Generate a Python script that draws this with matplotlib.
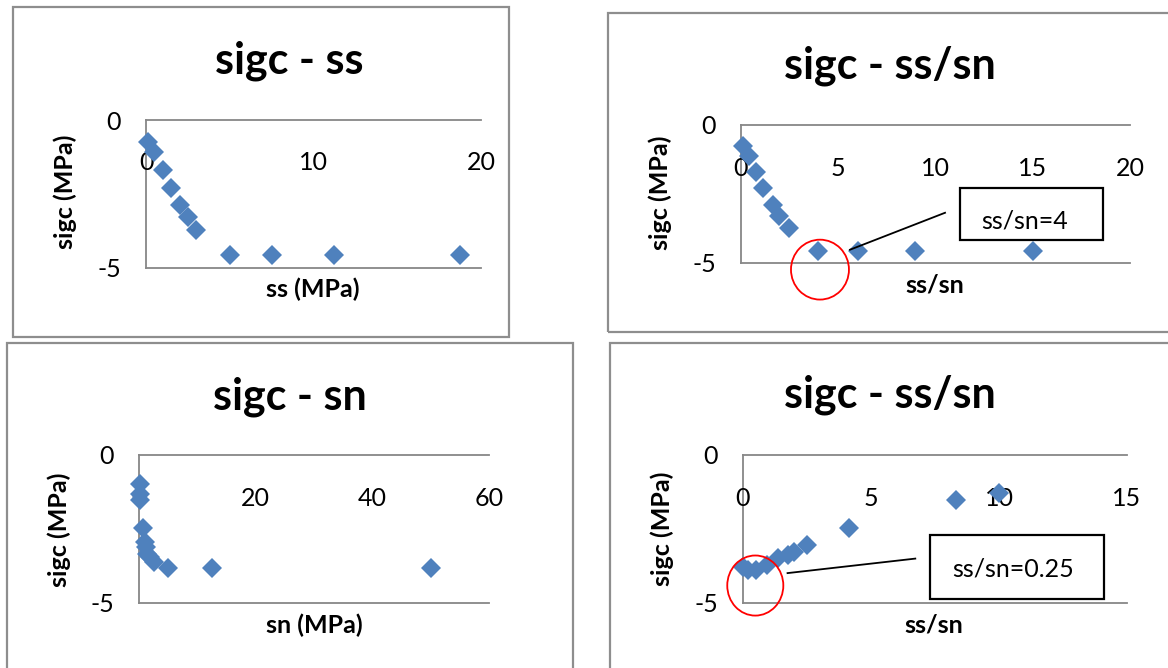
import matplotlib
matplotlib.use("Agg")
import matplotlib.pyplot as plt
from matplotlib.patches import Rectangle, Ellipse

plt.rcParams["font.family"] = ["Lato", "DejaVu Sans"]

W, H = 1168, 668
DPI = 100

# ---- data -------------------------------------------------------------
ss = [0.125, 0.5, 1.0, 1.5, 2.0, 2.5, 3.0, 5.0, 7.5, 11.25, 18.75]
sigc_ss = [-0.73, -1.07, -1.69, -2.29, -2.87, -3.29, -3.72, -4.55, -4.55, -4.56, -4.56]

ratio_a = [0.09, 0.43, 0.77, 1.15, 1.63, 1.97, 2.47, 3.98, 5.99, 8.95, 15.0]
sigc_a = [-0.75, -1.12, -1.69, -2.29, -2.89, -3.31, -3.73, -4.58, -4.58, -4.58, -4.58]

sn = [0.15, 0.15, 0.2, 0.66, 0.97, 1.2, 1.33, 1.85, 2.55, 5.0, 12.45, 50.0]
sigc_sn = [-0.97, -1.31, -1.52, -2.45, -2.94, -3.12, -3.33, -3.44, -3.63, -3.82, -3.82, -3.82]

ratio_b = [0.0, 0.2, 0.52, 0.95, 1.37, 1.74, 1.98, 2.49, 4.15, 8.33, 9.99]
sigc_b = [-3.79, -3.9, -3.9, -3.73, -3.48, -3.38, -3.28, -3.05, -2.45, -1.53, -1.30]

titles = ["sigc - ss", "sigc - ss/sn", "sigc - sn", "sigc - ss/sn"]
xlabels = ["ss (MPa)", "ss/sn", "sn (MPa)", "ss/sn"]
ylabel = "sigc (MPa)"
xticks = [[0, 10, 20], [0, 5, 10, 15, 20], [0, 20, 40, 60], [0, 5, 10, 15]]
yticks = [-5, 0]

BLUE = "#4F81BD"
GRID = "#878787"
FRAME = "#8E8E8E"

fig = plt.figure(figsize=(W / DPI, H / DPI), dpi=DPI)
fig.patch.set_facecolor("white")


def fx(px):
    return px / W


def fy(py):
    return 1 - py / H


def frame(x0, y0, x1, y1):
    fig.add_artist(Rectangle((fx(x0), fy(y1)), fx(x1) - fx(x0), fy(y0) - fy(y1),
                             transform=fig.transFigure, fill=False,
                             edgecolor=FRAME, linewidth=1.6))


def panel(box, xs, ys, xmax, ticks, title, xlabel, title_xy, xlab_xy, ylab_xy, tick_y):
    x0, y0, x1, y1 = box
    ax = fig.add_axes([fx(x0), fy(y1), fx(x1) - fx(x0), fy(y0) - fy(y1)])
    ax.set_xlim(0, xmax)
    ax.set_ylim(-5, 0)
    for s in ax.spines.values():
        s.set_visible(False)
    ax.patch.set_alpha(0)
    ax.axhline(0, color=GRID, lw=1.3, zorder=1, clip_on=False)
    ax.axhline(-5, color=GRID, lw=1.3, zorder=1, clip_on=False)
    ax.plot([0, 0], [-5, 0], color=GRID, lw=1.3, zorder=1, clip_on=False)
    ax.set_xticks([])
    ax.set_yticks(yticks)
    ax.set_yticklabels([str(v) for v in yticks], fontsize=18)
    ax.tick_params(axis="y", length=0, pad=18)
    for v in ticks:
        ax.text(v, tick_y, str(v), ha="center", va="center", fontsize=18, zorder=2)
    ax.plot(xs, ys, linestyle="none", marker="D", markersize=10.5,
            color=BLUE, markeredgewidth=0, zorder=3, clip_on=False)
    fig.text(fx(title_xy[0]), fy(title_xy[1]), title, ha="center", va="center",
             fontsize=31, fontweight="bold")
    fig.text(fx(xlab_xy[0]), fy(xlab_xy[1]), xlabel, ha="center", va="center",
             fontsize=18, fontweight="bold")
    fig.text(fx(ylab_xy[0]), fy(ylab_xy[1]), ylabel, ha="center", va="center",
             fontsize=18, fontweight="bold", rotation=90)
    return ax


def callout(ax, circle, line, box, text_xy, text):
    cx, cy, cw, ch = circle
    ax.add_patch(Ellipse((cx, cy), cw, ch, fill=False, edgecolor="#FF0000",
                         linewidth=1.3, clip_on=False, zorder=4))
    ax.plot(line[0], line[1], color="black", lw=1.3, clip_on=False, zorder=4)
    bx0, by0, bx1, by1 = box
    ax.add_patch(Rectangle((bx0, by0), bx1 - bx0, by1 - by0, fill=False,
                           edgecolor="black", linewidth=1.6, clip_on=False, zorder=4))
    ax.text(text_xy[0], text_xy[1], text, ha="left", va="center",
            fontsize=18, zorder=5)


# frames around each chart
frame(13, 7, 509, 337)
frame(608, 13, 1175, 332)
frame(7, 343, 573, 675)
frame(610, 343, 1175, 675)

panel((146, 120, 481, 268), ss, sigc_ss, 20, xticks[0], titles[0], xlabels[0],
      (289, 61), (313, 289), (65, 192), -1.42)

ax2 = panel((741, 125, 1130, 263), ratio_a, sigc_a, 20, xticks[1], titles[1], xlabels[1],
            (890, 66), (935, 285), (660, 193), -1.57)
callout(ax2, (4.06, -5.24, 2.98, 2.17),
        ([5.60, 10.49], [-4.52, -3.18]),
        (11.26, -4.18, 18.60, -2.29), (12.37, -3.49), "ss/sn=4")

panel((139, 455, 489, 603), sn, sigc_sn, 60, xticks[2], titles[2], xlabels[2],
      (290, 397), (314, 625), (59, 530), -1.47)

ax4 = panel((743, 455, 1127, 603), ratio_b, sigc_b, 15, xticks[3], titles[3], xlabels[3],
            (890, 395), (934, 625), (662, 529), -1.47)
callout(ax4, (0.48, -4.41, 2.19, 2.03),
        ([1.74, 6.73], [-3.99, -3.50]),
        (7.32, -4.86, 14.11, -2.69), (8.16, -3.84), "ss/sn=0.25")

fig.savefig("out.png", dpi=DPI)
